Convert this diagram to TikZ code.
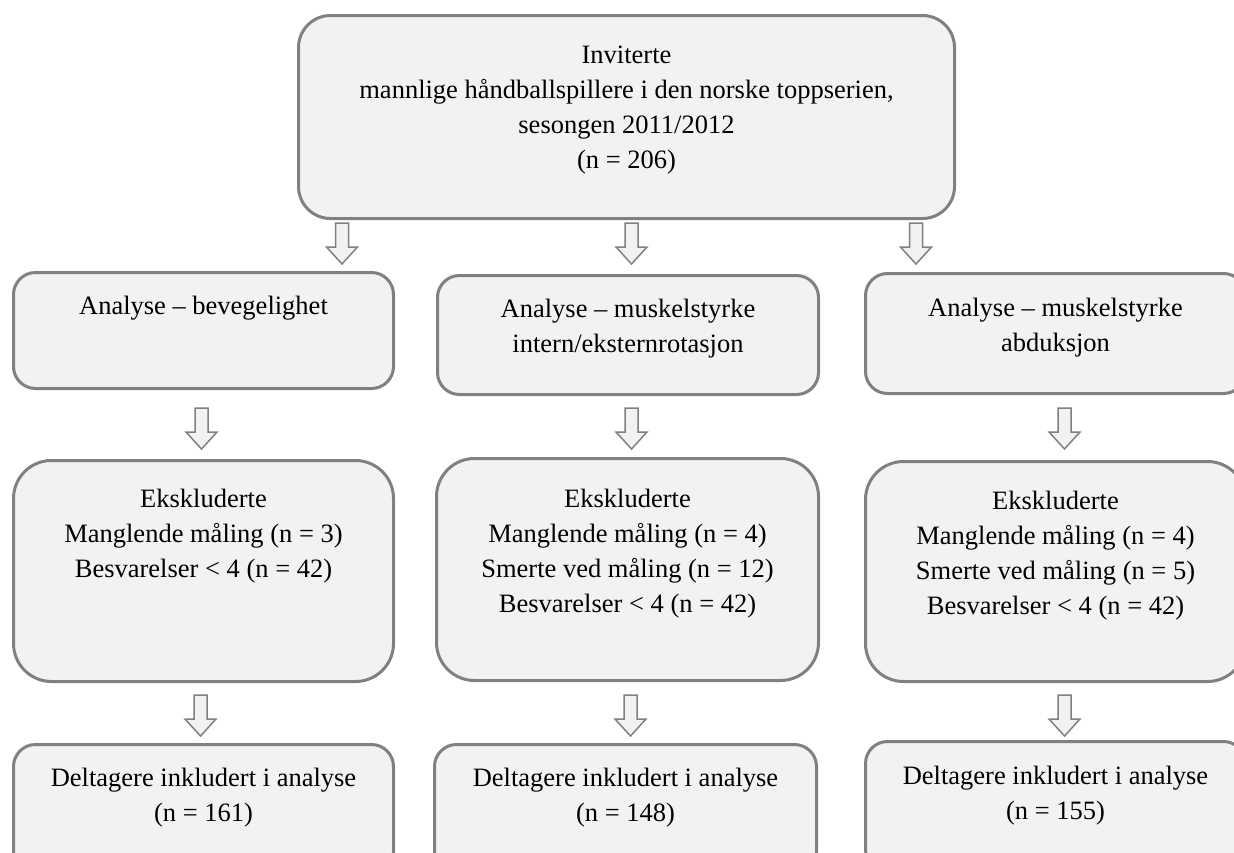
\documentclass[tikz,border=0pt]{standalone}
\usepackage{fontspec}
\setmainfont{Liberation Serif}
\usetikzlibrary{calc}
\definecolor{boxgray}{HTML}{808080}
\definecolor{boxfill}{HTML}{F2F2F2}
\definecolor{arrgreen}{HTML}{D7E4BD}
\newcommand{\bxt}[4]{\parbox[c][#2pt][t]{#1pt}{\centering\rule{0pt}{#3pt}#4}}
\tikzset{
  box/.style={draw=boxgray, fill=boxfill, line width=3pt, inner sep=0pt,
    anchor=north west, font=\fontsize{26.5}{35}\selectfont},
  smallr/.style={rounded corners=22pt},
  bigr/.style={rounded corners=38pt},
  blockarr/.pic={\draw[draw=boxgray, line width=1.5pt, fill=boxfill, line join=miter, pic actions]
    (-6.5,0) -- (6.5,0) -- (6.5,24) -- (15.5,24) -- (0,41) -- (-15.5,24) -- (-6.5,24) -- cycle;}
}
\begin{document}
\begin{tikzpicture}[x=1pt, y=-1pt]
\useasboundingbox (0,0) rectangle (1234,852);
\clip (0,0) rectangle (1234,852);
% top box
\node[box, rounded corners=32pt] (top) at (297,14) {\bxt{656}{203}{48}{Inviterte\\mannlige håndballspillere i den norske toppserien,\\sesongen 2011/2012\\(n = 206)}};
% row 2
\node[box, smallr] (a1) at (12,271) {\bxt{380}{116}{42}{Analyse – bevegelighet}};
\node[box, smallr] (b1) at (436,274) {\bxt{381}{119}{42}{Analyse – muskelstyrke\\intern/eksternrotasjon}};
\node[box, smallr] (c1) at (864,272) {\bxt{380}{120}{43}{Analyse – muskelstyrke\\abduksjon}};
% row 3
\node[box, bigr] (a2) at (12,459) {\bxt{380}{221}{47}{Ekskluderte\\Manglende måling (n = 3)\\Besvarelser < 4 (n = 42)}};
\node[box, bigr] (b2) at (435,457) {\bxt{382}{222}{49}{Ekskluderte\\Manglende måling (n = 4)\\Smerte ved måling (n = 12)\\Besvarelser < 4 (n = 42)}};
\node[box, bigr] (c2) at (864,460) {\bxt{380}{220}{48}{Ekskluderte\\Manglende måling (n = 4)\\Smerte ved måling (n = 5)\\Besvarelser < 4 (n = 42)}};
% row 4
\node[box, smallr] (a3) at (12,743) {\bxt{380}{130}{42}{Deltagere inkludert i analyse\\(n = 161)}};
\node[box, smallr] (b3) at (433,743) {\bxt{382}{130}{42}{Deltagere inkludert i analyse\\(n = 148)}};
\node[box, smallr] (c3) at (864,740) {\bxt{380}{130}{43}{Deltagere inkludert i analyse\\(n = 155)}};
% arrows top -> row 2
\pic at ($(top.south west)+(45,3)$) {blockarr};
\pic at ($(top.south)+(5,3)$) {blockarr};
\pic at ($(top.south east)+(-40,3)$) {blockarr};
% arrows row 2 -> row 3
\pic at ($(a1.south)+(-2,18)$) {blockarr};
\pic at ($(b1.south)+(3.5,12)$) {blockarr};
\pic at ($(c1.south)+(9,13)$) {blockarr};
% arrows row 3 -> row 4
\pic[fill=arrgreen] at ($(a2.south)+(-3,12)$) {blockarr};
\pic at ($(b2.south)+(3,13)$) {blockarr};
\pic at ($(c2.south)+(9,12)$) {blockarr};
\end{tikzpicture}
\end{document}
